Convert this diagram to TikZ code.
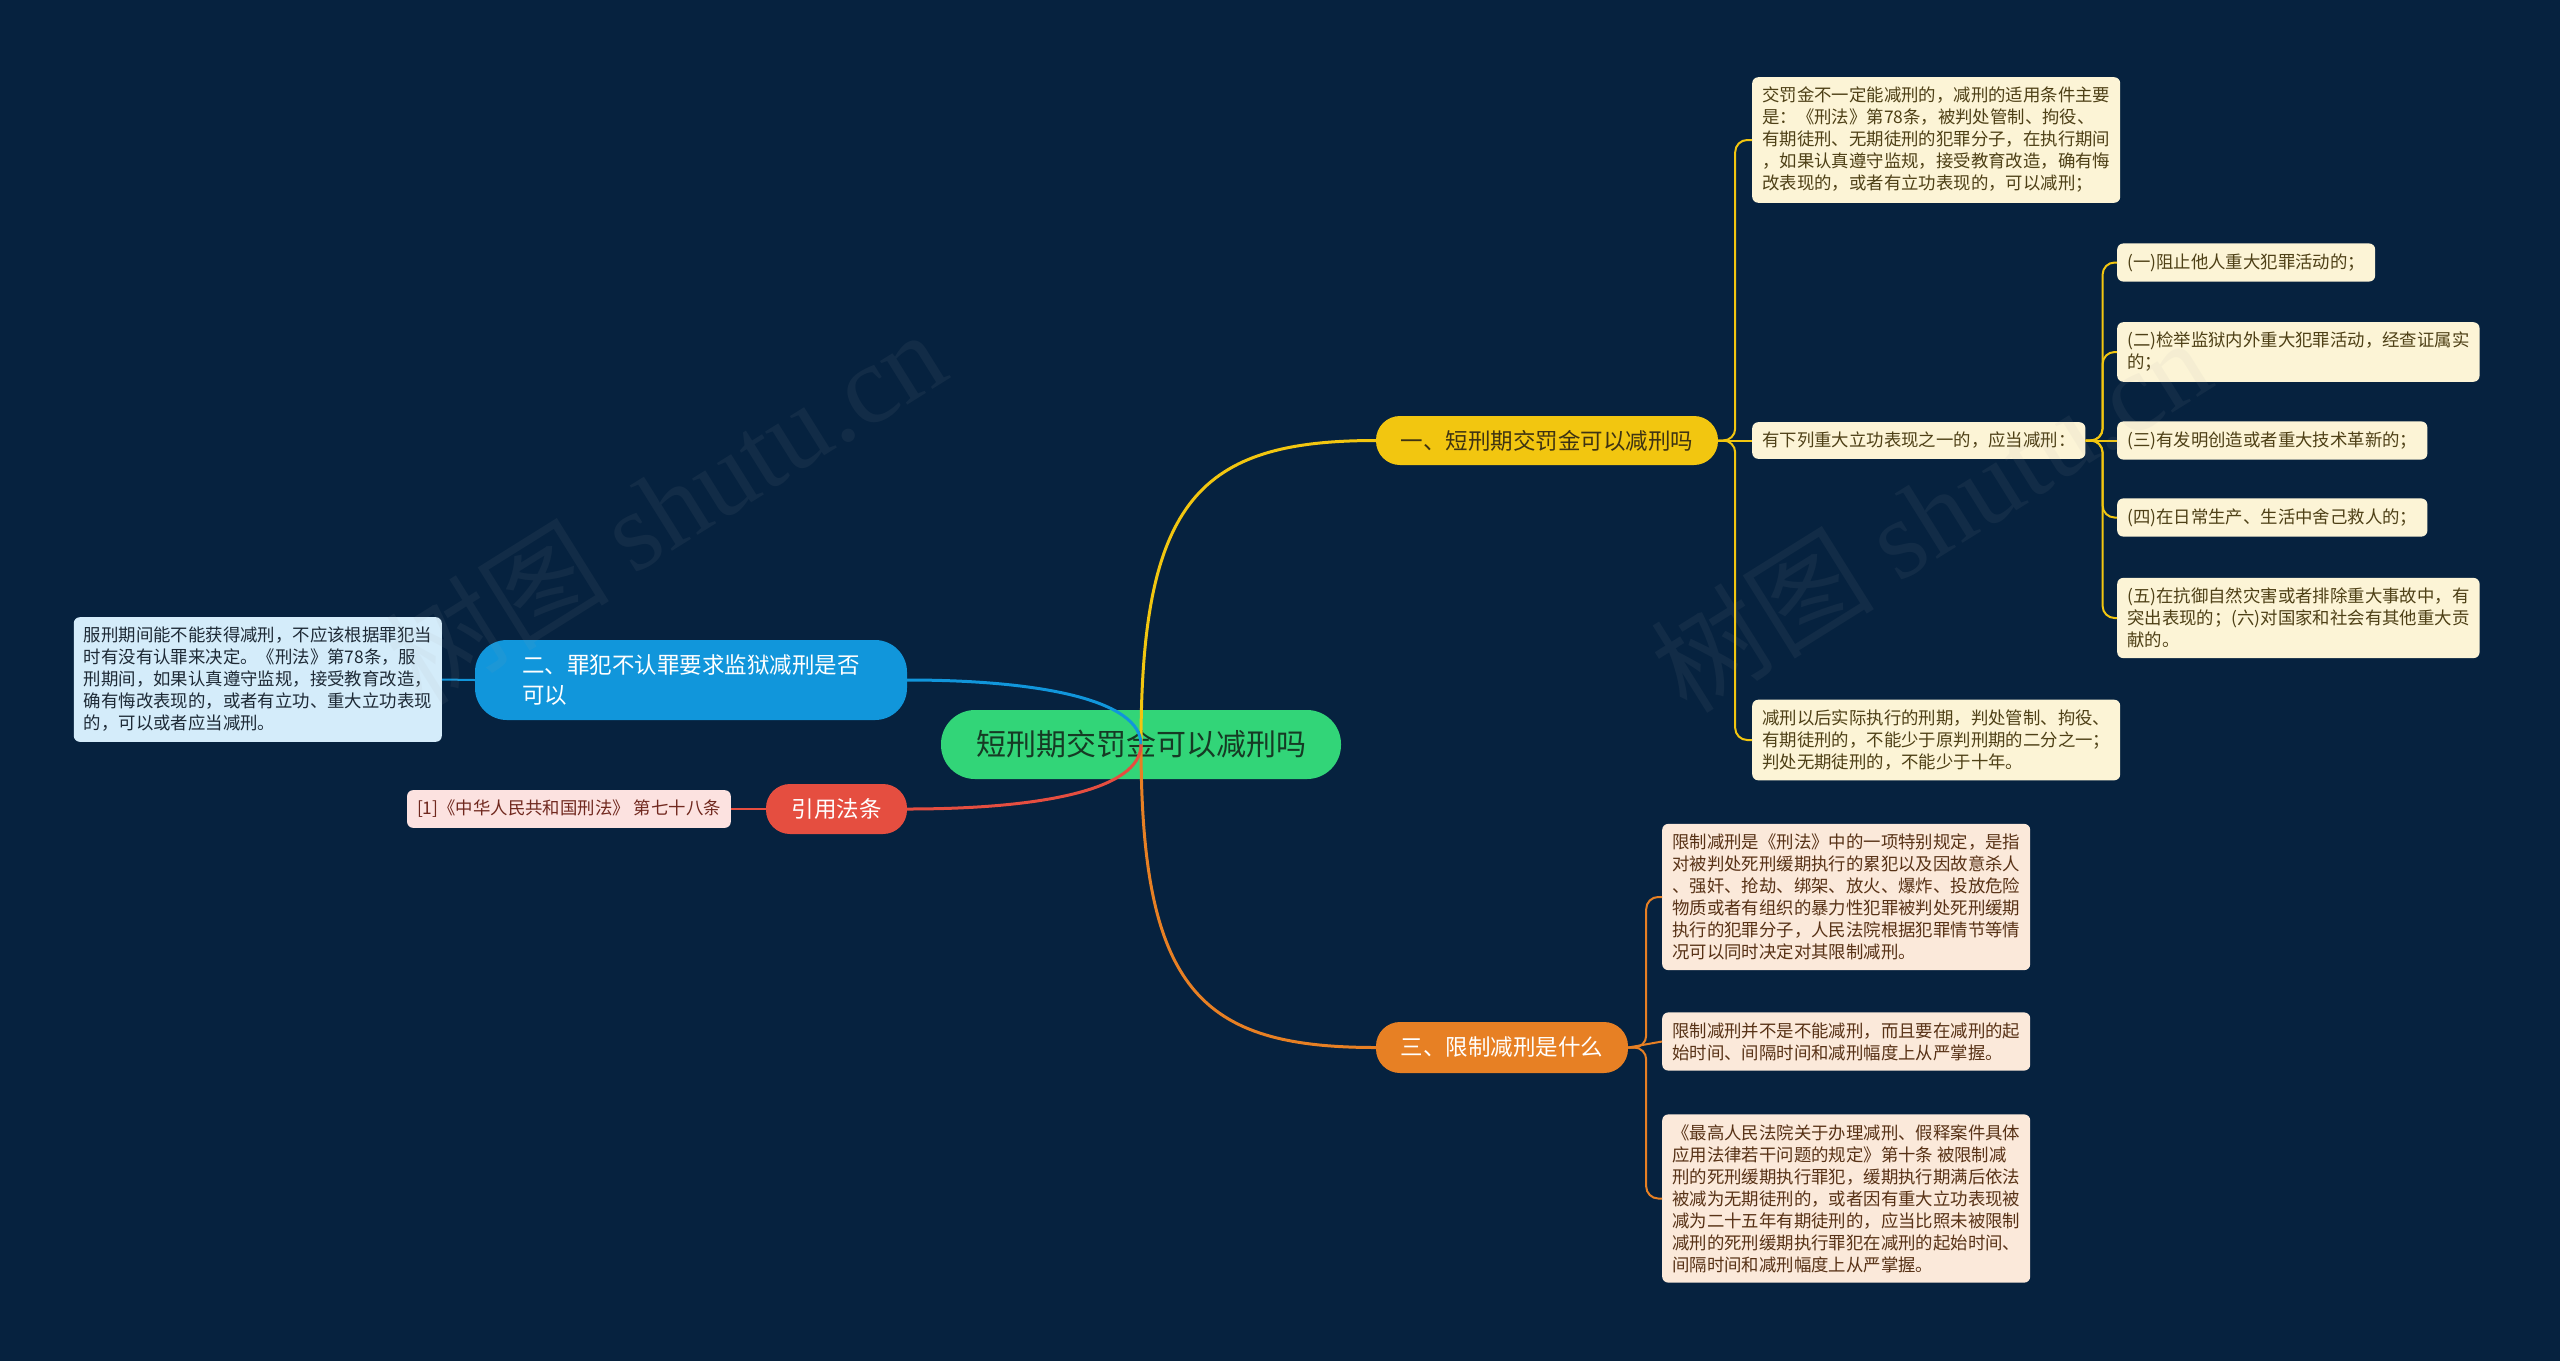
\documentclass[tikz,border=0pt]{standalone}
\usepackage{fontspec}
\setmainfont{Noto Sans CJK SC}
\newfontfamily\wmlatin{Liberation Serif}
\definecolor{bgnavy}{RGB}{6,34,63}
\definecolor{rootgreen}{RGB}{50,213,120}
\definecolor{roottext}{RGB}{22,58,36}
\definecolor{topicyellow}{RGB}{242,198,16}
\definecolor{topicblue}{RGB}{17,150,219}
\definecolor{topicred}{RGB}{229,78,64}
\definecolor{topicorange}{RGB}{231,128,36}
\definecolor{leafcream}{RGB}{252,244,214}
\definecolor{leafpeach}{RGB}{251,233,218}
\definecolor{leafblue}{RGB}{212,236,250}
\definecolor{leafpink}{RGB}{252,226,224}
\definecolor{creamtext}{RGB}{78,64,22}
\definecolor{peachtext}{RGB}{88,50,22}
\definecolor{bluetext}{RGB}{30,42,54}
\definecolor{pinktext}{RGB}{112,40,30}

\begin{document}
\begin{tikzpicture}
    [x=1pt, y=-1pt,
    mainline/.style={line width=3pt},
    leafline/.style={line width=2pt, rounded corners=12pt},
    root/.style={fill=rootgreen, text=roottext, rounded corners=34pt, minimum width=400pt, minimum height=69pt, font=\fontsize{30}{36}\selectfont},
    topic/.style={rounded corners=24pt, minimum height=49pt, font=\fontsize{22.5}{30}\selectfont},
    leaf/.style={rounded corners=6pt, align=left, inner xsep=10pt, inner ysep=10pt, font=\fontsize{17.4}{22}\selectfont},
    wmark/.style={text=gray!70, opacity=0.08, rotate=32, font=\fontsize{112}{120}\selectfont}]
    \useasboundingbox (0,0) rectangle (2560,1361);
    \fill[bgnavy] (0,0) rectangle (2560,1361);

        %% Root and topics
    \node[root] (root) at (1141,744.5) {短刑期交罚金可以减刑吗};
    \node[topic, fill=topicyellow, text=creamtext!80!black, minimum width=342pt] (b1) at (1547,440.5) {一、短刑期交罚金可以减刑吗};
    \node[topic, fill=topicblue, text=white, minimum width=432pt, minimum height=80pt, rounded corners=32pt, align=left] (b2) at (691,680) {二、罪犯不认罪要求监狱减刑是否\\可以};
    \node[topic, fill=topicred, text=white, minimum width=141pt, minimum height=50pt] (b4) at (836.5,809) {引用法条};
    \node[topic, fill=topicorange, text=white, minimum width=252pt, minimum height=51pt] (b3) at (1502,1047.5) {三、限制减刑是什么};

        %% Topic one
    \node[leaf, fill=leafcream, text=creamtext, anchor=west] (l1a) at (1752,140) {交罚金不一定能减刑的，减刑的适用条件主要\\是：《刑法》第78条，被判处管制、拘役、\\有期徒刑、无期徒刑的犯罪分子，在执行期间\\，如果认真遵守监规，接受教育改造，确有悔\\改表现的，或者有立功表现的，可以减刑；};
    \node[leaf, fill=leafcream, text=creamtext, anchor=west] (l1b) at (1752,440.5) {有下列重大立功表现之一的，应当减刑：};
    \node[leaf, fill=leafcream, text=creamtext, anchor=west] (l1c) at (1752,740) {减刑以后实际执行的刑期，判处管制、拘役、\\有期徒刑的，不能少于原判刑期的二分之一；\\判处无期徒刑的，不能少于十年。};
        \node[leaf, fill=leafcream, text=creamtext, anchor=west] (s1) at (2117,262.5) {(一)阻止他人重大犯罪活动的；};
        \node[leaf, fill=leafcream, text=creamtext, anchor=west] (s2) at (2117,352) {(二)检举监狱内外重大犯罪活动，经查证属实\\的；};
        \node[leaf, fill=leafcream, text=creamtext, anchor=west] (s3) at (2117,440.5) {(三)有发明创造或者重大技术革新的；};
        \node[leaf, fill=leafcream, text=creamtext, anchor=west] (s4) at (2117,517.5) {(四)在日常生产、生活中舍己救人的；};
        \node[leaf, fill=leafcream, text=creamtext, anchor=west] (s5) at (2117,618) {(五)在抗御自然灾害或者排除重大事故中，有\\突出表现的；(六)对国家和社会有其他重大贡\\献的。};

        %% Topic two and references
    \node[leaf, fill=leafblue, text=bluetext, anchor=east] (l2a) at (442,679.5) {服刑期间能不能获得减刑，不应该根据罪犯当\\时有没有认罪来决定。《刑法》第78条，服\\刑期间，如果认真遵守监规，接受教育改造，\\确有悔改表现的，或者有立功、重大立功表现\\的，可以或者应当减刑。};
    \node[leaf, fill=leafpink, text=pinktext, anchor=east] (l4a) at (731,809) {[1]《中华人民共和国刑法》 第七十八条};

        %% Topic three
    \node[leaf, fill=leafpeach, text=peachtext, anchor=west] (l3a) at (1662,897) {限制减刑是《刑法》中的一项特别规定，是指\\对被判处死刑缓期执行的累犯以及因故意杀人\\、强奸、抢劫、绑架、放火、爆炸、投放危险\\物质或者有组织的暴力性犯罪被判处死刑缓期\\执行的犯罪分子，人民法院根据犯罪情节等情\\况可以同时决定对其限制减刑。};
    \node[leaf, fill=leafpeach, text=peachtext, anchor=west] (l3b) at (1662,1041.5) {限制减刑并不是不能减刑，而且要在减刑的起\\始时间、间隔时间和减刑幅度上从严掌握。};
    \node[leaf, fill=leafpeach, text=peachtext, anchor=west] (l3c) at (1662,1198.5) {《最高人民法院关于办理减刑、假释案件具体\\应用法律若干问题的规定》第十条 被限制减\\刑的死刑缓期执行罪犯，缓期执行期满后依法\\被减为无期徒刑的，或者因有重大立功表现被\\减为二十五年有期徒刑的，应当比照未被限制\\减刑的死刑缓期执行罪犯在减刑的起始时间、\\间隔时间和减刑幅度上从严掌握。};

        %% Connectors from the root
    \draw[mainline, topicyellow] (root.center) .. controls (1141,499) and (1200,440.5) .. (b1.west);
    \draw[mainline, topicorange] (root.center) .. controls (1141,990) and (1200,1047.5) .. (b3.west);
    \draw[mainline, topicblue] (root.center) .. controls (1141,700) and (1040,680) .. (b2.east);
    \draw[mainline, topicred] (root.center) .. controls (1141,790) and (1040,809) .. (b4.east);

        %% Connectors to the leaves
    \draw[leafline, topicyellow] (b1.east) -- ++(17,0) |- (l1a.west);
    \draw[leafline, topicyellow] (b1.east) -- (l1b.west);
    \draw[leafline, topicyellow] (b1.east) -- ++(17,0) |- (l1c.west);
    \draw[leafline, topicyellow] (l1b.east) -- ++(17,0) |- (s1.west);
    \draw[leafline, topicyellow] (l1b.east) -- ++(17,0) |- (s2.west);
    \draw[leafline, topicyellow] (l1b.east) -- (s3.west);
    \draw[leafline, topicyellow] (l1b.east) -- ++(17,0) |- (s4.west);
    \draw[leafline, topicyellow] (l1b.east) -- ++(17,0) |- (s5.west);
    \draw[leafline, topicblue] (b2.west) -- (l2a.east);
    \draw[leafline, topicred] (b4.west) -- (l4a.east);
    \draw[leafline, topicorange] (b3.east) -- ++(18,0) |- (l3a.west);
    \draw[leafline, topicorange] (b3.east) -- (l3b.west);
    \draw[leafline, topicorange] (b3.east) -- ++(18,0) |- (l3c.west);

        %% Watermarks
    \node[wmark] (wm1) at (665,506) {树图 {\wmlatin shutu.cn}};
    \node[wmark] (wm2) at (1930,514) {树图 {\wmlatin shutu.cn}};
\end{tikzpicture}
\end{document}
